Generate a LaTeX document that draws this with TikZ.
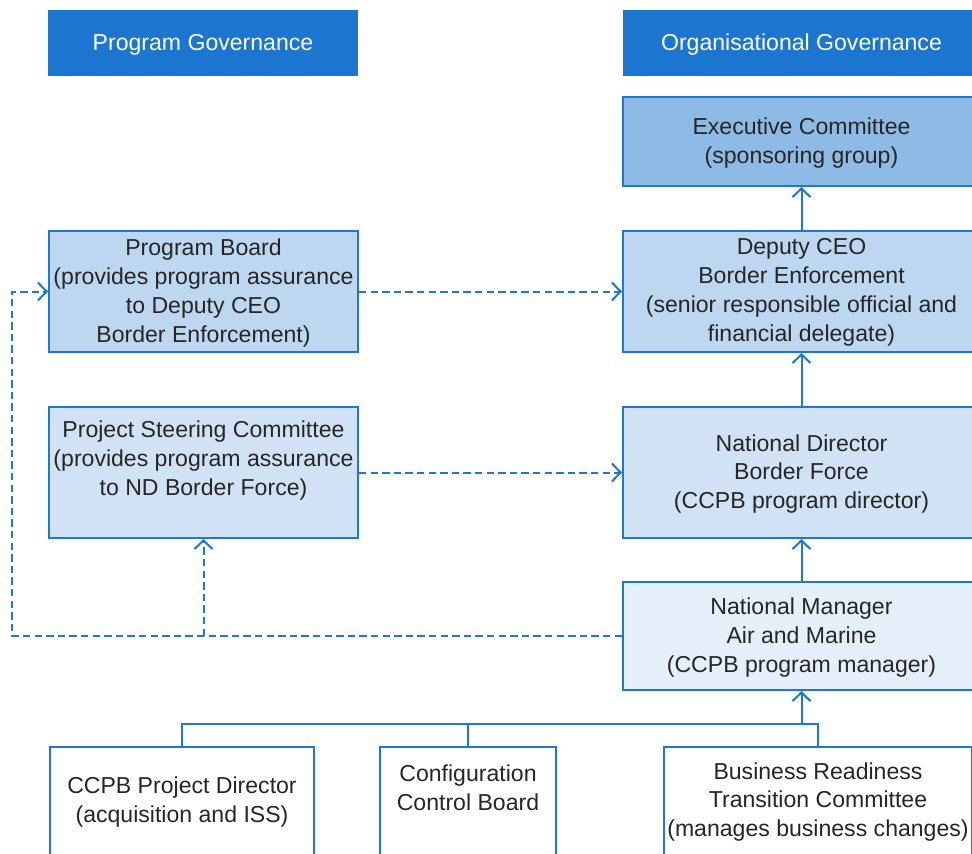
\documentclass[tikz,border=0pt]{standalone}
\usepackage{fontspec}
\setmainfont{Liberation Sans}
\usetikzlibrary{arrows.meta}
\definecolor{hdrblue}{RGB}{28,117,207}
\definecolor{edgeblue}{RGB}{31,119,208}
\definecolor{fillA}{RGB}{142,186,230}
\definecolor{fillB}{RGB}{189,215,240}
\definecolor{fillC}{RGB}{208,226,244}
\definecolor{fillD}{RGB}{229,239,249}
\definecolor{inkgray}{RGB}{38,38,38}
\begin{document}
\begin{tikzpicture}[x=0.75pt,y=-0.75pt,
  txt/.style={align=center,inner sep=0pt,text=inkgray,
    font=\fontsize{17.3pt}{21.6pt}\selectfont},
  htxt/.style={txt,text=white},
  header/.style={rectangle,fill=hdrblue,draw=none,inner sep=0pt},
  box/.style={rectangle,draw=edgeblue,line width=1.5pt,inner sep=0pt},
  tip/.style={-{Straight Barb[length=6.5pt,width=13.5pt]}},
  link/.style={draw=edgeblue,line width=1.5pt},
  dlink/.style={draw=edgeblue,line width=1.5pt,dash pattern=on 5.5pt off 3.2pt}]
\useasboundingbox (0,0) rectangle (972,854);

% column headers
\node[header,minimum width=232.5pt,minimum height=49.5pt] (hpg) at (203,43) {};
\node[htxt] (hpgtext) at (203,45) {Program Governance};
\node[header,minimum width=267.75pt,minimum height=49.5pt] (hog) at (801.5,43) {};
\node[htxt] (hogtext) at (801.5,45) {Organisational Governance};

% organisational chain
\node[box,fill=fillA,minimum width=267.75pt,minimum height=66.75pt] (exec) at (801.5,141.5) {};
\node[txt] (exectext) at (801.5,143) {Executive Committee\\(sponsoring group)};
\node[box,fill=fillB,minimum width=267.75pt,minimum height=90.75pt] (dceo) at (801.5,291.5) {};
\node[txt] (dceotext) at (801.5,292.5)
  {Deputy CEO\\Border Enforcement\\(senior responsible official and\\financial delegate)};
\node[box,fill=fillC,minimum width=267.75pt,minimum height=98.25pt] (nd) at (801.5,472.5) {};
\node[txt] (ndtext) at (801.5,474) {National Director\\Border Force\\(CCPB program director)};
\node[box,fill=fillD,minimum width=267.75pt,minimum height=81pt] (nm) at (801.5,636) {};
\node[txt] (nmtext) at (801.5,637.5) {National Manager\\Air and Marine\\(CCPB program manager)};

% program boards
\node[box,fill=fillB,minimum width=231.75pt,minimum height=90.75pt] (pb) at (203.5,291.5) {};
\node[txt] (pbtext) at (203.5,293)
  {Program Board\\(provides program assurance\\to Deputy CEO\\Border Enforcement)};
\node[box,fill=fillC,minimum width=231.75pt,minimum height=98.25pt] (psc) at (203.5,472.5) {};
\node[txt] (psctext) at (203.5,460.5)
  {Project Steering Committee\\(provides program assurance\\to ND Border Force)};

% reporting groups
\node[box,fill=white,minimum width=198pt,minimum height=99.75pt] (ccpb) at (182,813.5) {};
\node[txt] (ccpbtext) at (182,802) {CCPB Project Director\\(acquisition and ISS)};
\node[box,fill=white,minimum width=132pt,minimum height=99.75pt] (cfg) at (468,813.5) {};
\node[txt] (cfgtext) at (468,788) {Configuration\\Control Board};
\node[box,fill=white,minimum width=231pt,minimum height=99.75pt] (brt) at (818,813.5) {};
\node[txt] (brttext) at (818,802) {Business Readiness\\Transition Committee\\(manages business changes)};

% solid reporting lines
\draw[link,tip] (dceo.north) -- (exec.south);
\draw[link,tip] (nd.north) -- (dceo.south);
\draw[link,tip] (nm.north) -- (nd.south);
\coordinate (bus) at (801.5,724);
\draw[link,tip] (bus) -- (nm.south);
\draw[link] (ccpb.north) -- (ccpb.north |- bus) -| (brt.north);
\draw[link] (cfg.north) -- (cfg.north |- bus);

% assurance lines
\draw[dlink,tip] (pb.east) -- (dceo.west);
\draw[dlink,tip] (psc.east) -- (nd.west);
\coordinate (loop) at (12,636);
\coordinate (branch) at (203.5,636);
\draw[dlink,tip] (nm.west) -- (loop) |- (pb.west);
\draw[dlink,tip] (branch) -- (psc.south);
\end{tikzpicture}
\end{document}
